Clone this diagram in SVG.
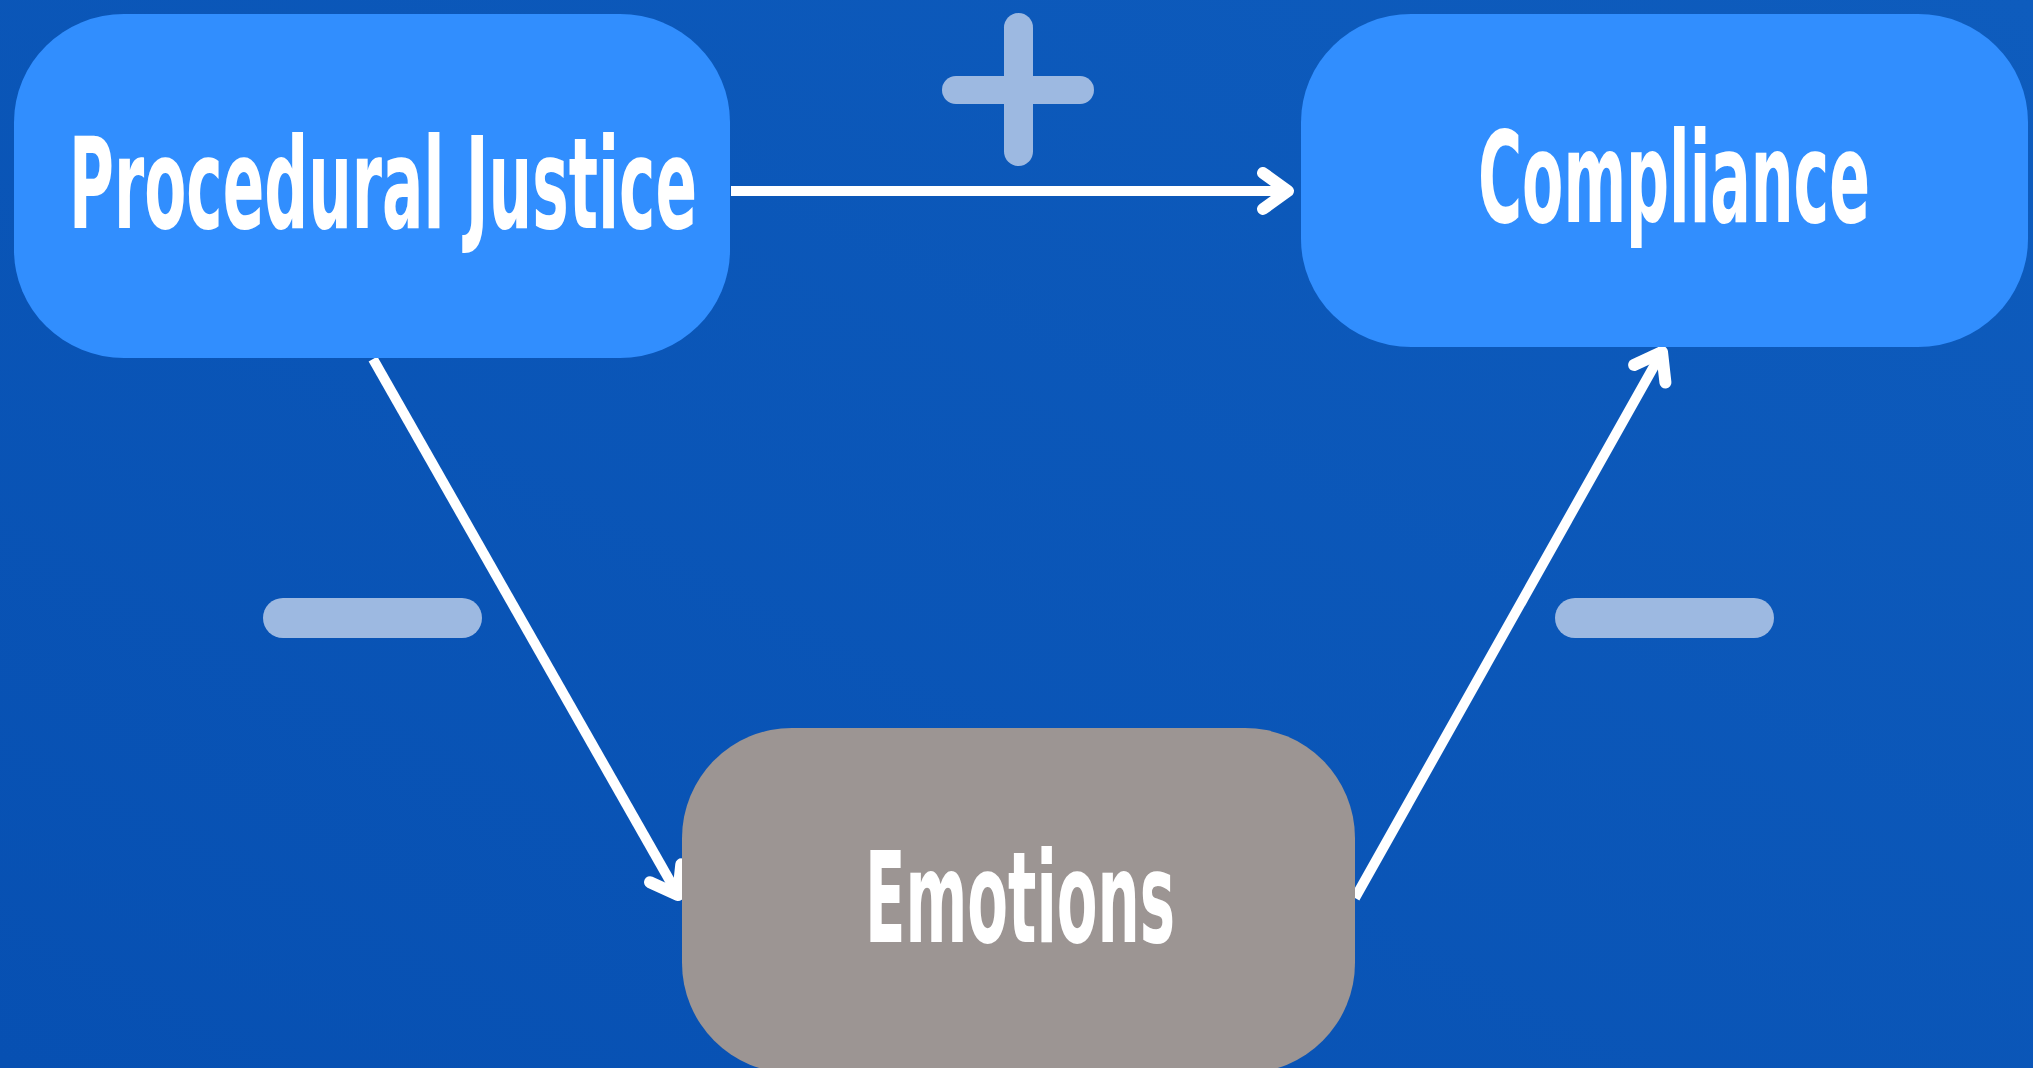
<svg xmlns="http://www.w3.org/2000/svg" width="2033" height="1068" viewBox="0 0 2033 1068">
  <defs>
    <linearGradient id="bg" x1="0" y1="1" x2="1" y2="0">
      <stop offset="0" stop-color="#0750b2"/>
      <stop offset="1" stop-color="#0e5cbd"/>
    </linearGradient>
    <marker id="chev" markerUnits="userSpaceOnUse" markerWidth="60" markerHeight="60" viewBox="-40 -30 60 60" refX="0" refY="0" orient="auto" overflow="visible">
      <path d="M -25 -18 L 0 0 L -25 18" fill="none" stroke="#ffffff" stroke-width="12" stroke-linecap="round" stroke-linejoin="round"/>
    </marker>
    <style>
      .box-blue { fill: #318efe; }
      .box-grey { fill: #9c9593; }
      .label { fill: #ffffff; font-family: "DejaVu Sans Condensed", "Liberation Sans Narrow", "Liberation Sans", sans-serif; font-weight: bold; font-size: 67px; }
      .edge { stroke: #ffffff; stroke-width: 10; fill: none; stroke-linecap: butt; marker-end: url(#chev); }
      .sign { fill: #9db9e1; }
    </style>
  </defs>

  <rect x="0" y="0" width="2033" height="1068" fill="url(#bg)"/>

  <!-- connectors -->
  <g id="connectors">
    <line class="edge" x1="731" y1="191" x2="1288" y2="191"/>
    <line class="edge" x1="373" y1="359" x2="678" y2="895"/>
    <line class="edge" x1="1355" y1="898" x2="1662" y2="352"/>
  </g>

  <!-- polarity signs -->
  <g id="sign-plus">
    <rect class="sign" x="1004" y="13" width="29" height="153" rx="14.5"/>
    <rect class="sign" x="942" y="76" width="152" height="28" rx="14"/>
  </g>
  <g id="sign-minus-left">
    <rect class="sign" x="263" y="598" width="219" height="40" rx="20"/>
  </g>
  <g id="sign-minus-right">
    <rect class="sign" x="1555" y="598" width="219" height="40" rx="20"/>
  </g>

  <!-- nodes -->
  <g id="node-procedural-justice">
    <rect class="box-blue" x="14" y="14" width="716" height="344" rx="110" ry="108"/>
    <text class="label" transform="translate(69,228) scale(1,1.9)" x="0" y="0" textLength="628" lengthAdjust="spacingAndGlyphs">Procedural Justice</text>
  </g>
  <g id="node-compliance">
    <rect class="box-blue" x="1301" y="14" width="727" height="333" rx="110" ry="108"/>
    <text class="label" transform="translate(1478,222) scale(1,1.9)" x="0" y="0" textLength="392" lengthAdjust="spacingAndGlyphs">Compliance</text>
  </g>
  <g id="node-emotions">
    <rect class="box-grey" x="682" y="728" width="673" height="345" rx="110" ry="110"/>
    <text class="label" transform="translate(865,942) scale(1,1.9)" x="0" y="0" textLength="310" lengthAdjust="spacingAndGlyphs">Emotions</text>
  </g>
</svg>
